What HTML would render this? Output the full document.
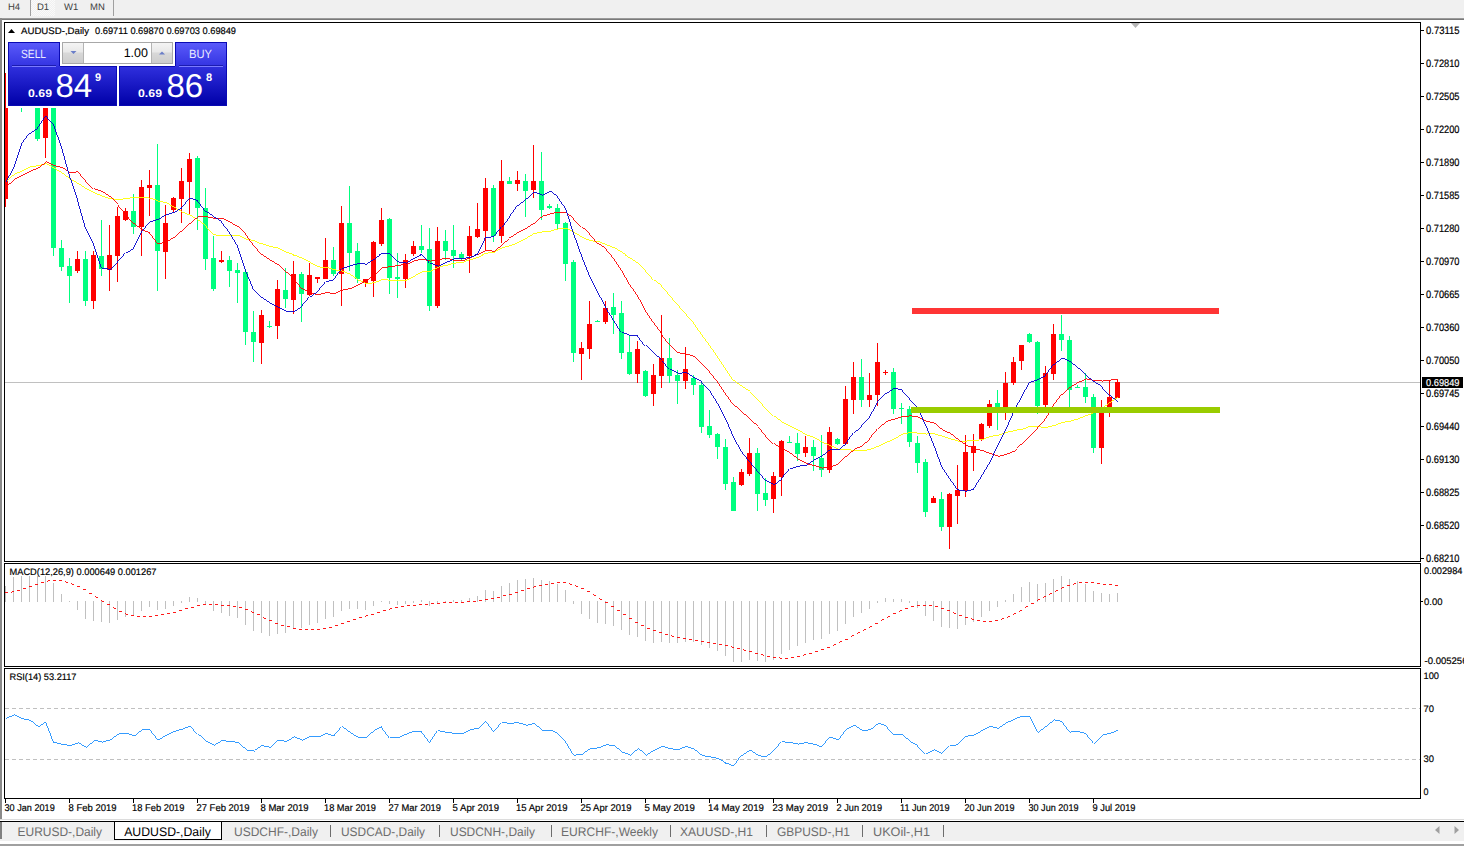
<!DOCTYPE html>
<html><head><meta charset="utf-8"><style>
html,body{margin:0;padding:0;background:#fff;width:1464px;height:846px;overflow:hidden}
svg{display:block;font-family:"Liberation Sans", sans-serif;text-rendering:geometricPrecision}
</style></head><body>
<svg width="1464" height="846" viewBox="0 0 1464 846">
<rect x="0" y="0" width="1464" height="18" fill="#f0f0f0"/>
<defs><pattern id="hatch" width="2" height="2" patternUnits="userSpaceOnUse"><rect width="2" height="2" fill="#f0f0f0"/><rect width="1" height="1" fill="#fafafa"/><rect x="1" y="1" width="1" height="1" fill="#fafafa"/></pattern></defs>
<rect x="31" y="0" width="24" height="16" fill="url(#hatch)"/>
<rect x="30" y="0" width="1" height="16" fill="#a0a0a0"/>
<rect x="113" y="0" width="1" height="16" fill="#a0a0a0"/>
<rect x="0" y="18" width="1464" height="1" fill="#9a9a9a"/>
<rect x="0" y="19" width="1464" height="1" fill="#7a7a7a"/>
<rect x="0" y="18" width="2" height="802" fill="#8a8a8a"/>
<text x="8" y="10" font-size="9.5" fill="#404040" stroke="none">H4</text>
<text x="37" y="10" font-size="9.5" fill="#404040" stroke="none">D1</text>
<text x="64" y="10" font-size="9.5" fill="#404040" stroke="none">W1</text>
<text x="90" y="10" font-size="9.5" fill="#404040" stroke="none">MN</text>
<defs><clipPath id="cmain"><rect x="5" y="23" width="1415" height="538"/></clipPath></defs>
<rect x="5" y="382" width="1415" height="1" fill="#c0c0c0"/>
<g clip-path="url(#cmain)">
<rect x="5" y="73" width="1" height="134" fill="#ff0000"/>
<rect x="3" y="107" width="5" height="92" fill="#ff0000"/>
<rect x="13" y="70" width="1" height="28" fill="#ff0000"/>
<rect x="11" y="75" width="5" height="18" fill="#ff0000"/>
<rect x="21" y="72" width="1" height="40" fill="#00ff7f"/>
<rect x="19" y="75" width="5" height="20" fill="#00ff7f"/>
<rect x="29" y="92" width="1" height="12" fill="#00ff7f"/>
<rect x="27" y="95" width="5" height="9" fill="#00ff7f"/>
<rect x="37" y="100" width="1" height="41" fill="#00ff7f"/>
<rect x="35" y="105" width="5" height="34" fill="#00ff7f"/>
<rect x="45" y="95" width="1" height="63" fill="#ff0000"/>
<rect x="43" y="100" width="5" height="38" fill="#ff0000"/>
<rect x="53" y="97" width="1" height="159" fill="#00ff7f"/>
<rect x="51" y="100" width="5" height="148" fill="#00ff7f"/>
<rect x="61" y="240" width="1" height="31" fill="#00ff7f"/>
<rect x="59" y="248" width="5" height="19" fill="#00ff7f"/>
<rect x="69" y="258" width="1" height="45" fill="#00ff7f"/>
<rect x="67" y="266" width="5" height="10" fill="#00ff7f"/>
<rect x="77" y="251" width="1" height="22" fill="#ff0000"/>
<rect x="75" y="259" width="5" height="12" fill="#ff0000"/>
<rect x="85" y="251" width="1" height="55" fill="#00ff7f"/>
<rect x="83" y="259" width="5" height="42" fill="#00ff7f"/>
<rect x="93" y="251" width="1" height="58" fill="#ff0000"/>
<rect x="91" y="255" width="5" height="46" fill="#ff0000"/>
<rect x="101" y="220" width="1" height="56" fill="#00ff7f"/>
<rect x="99" y="256" width="5" height="13" fill="#00ff7f"/>
<rect x="109" y="225" width="1" height="66" fill="#ff0000"/>
<rect x="107" y="255" width="5" height="15" fill="#ff0000"/>
<rect x="117" y="207" width="1" height="75" fill="#ff0000"/>
<rect x="115" y="216" width="5" height="40" fill="#ff0000"/>
<rect x="125" y="208" width="1" height="13" fill="#ff0000"/>
<rect x="123" y="211" width="5" height="9" fill="#ff0000"/>
<rect x="133" y="194" width="1" height="40" fill="#00ff7f"/>
<rect x="131" y="211" width="5" height="16" fill="#00ff7f"/>
<rect x="141" y="180" width="1" height="76" fill="#ff0000"/>
<rect x="139" y="187" width="5" height="40" fill="#ff0000"/>
<rect x="149" y="170" width="1" height="46" fill="#ff0000"/>
<rect x="147" y="185" width="5" height="3" fill="#ff0000"/>
<rect x="157" y="144" width="1" height="147" fill="#00ff7f"/>
<rect x="155" y="185" width="5" height="66" fill="#00ff7f"/>
<rect x="165" y="205" width="1" height="74" fill="#ff0000"/>
<rect x="163" y="223" width="5" height="29" fill="#ff0000"/>
<rect x="173" y="197" width="1" height="15" fill="#ff0000"/>
<rect x="171" y="198" width="5" height="12" fill="#ff0000"/>
<rect x="181" y="168" width="1" height="55" fill="#ff0000"/>
<rect x="179" y="181" width="5" height="18" fill="#ff0000"/>
<rect x="189" y="153" width="1" height="61" fill="#ff0000"/>
<rect x="187" y="159" width="5" height="23" fill="#ff0000"/>
<rect x="197" y="156" width="1" height="74" fill="#00ff7f"/>
<rect x="195" y="158" width="5" height="50" fill="#00ff7f"/>
<rect x="205" y="188" width="1" height="82" fill="#00ff7f"/>
<rect x="203" y="208" width="5" height="51" fill="#00ff7f"/>
<rect x="213" y="236" width="1" height="55" fill="#00ff7f"/>
<rect x="211" y="258" width="5" height="31" fill="#00ff7f"/>
<rect x="221" y="251" width="1" height="12" fill="#ff0000"/>
<rect x="219" y="260" width="5" height="2" fill="#ff0000"/>
<rect x="229" y="256" width="1" height="31" fill="#00ff7f"/>
<rect x="227" y="260" width="5" height="11" fill="#00ff7f"/>
<rect x="237" y="263" width="1" height="40" fill="#00ff7f"/>
<rect x="235" y="270" width="5" height="3" fill="#00ff7f"/>
<rect x="245" y="269" width="1" height="76" fill="#00ff7f"/>
<rect x="243" y="272" width="5" height="60" fill="#00ff7f"/>
<rect x="253" y="311" width="1" height="51" fill="#00ff7f"/>
<rect x="251" y="332" width="5" height="10" fill="#00ff7f"/>
<rect x="261" y="310" width="1" height="54" fill="#ff0000"/>
<rect x="259" y="315" width="5" height="28" fill="#ff0000"/>
<rect x="269" y="321" width="1" height="7" fill="#00ff7f"/>
<rect x="267" y="326" width="5" height="1" fill="#00ff7f"/>
<rect x="277" y="280" width="1" height="59" fill="#ff0000"/>
<rect x="275" y="289" width="5" height="37" fill="#ff0000"/>
<rect x="285" y="268" width="1" height="40" fill="#00ff7f"/>
<rect x="283" y="290" width="5" height="9" fill="#00ff7f"/>
<rect x="293" y="261" width="1" height="53" fill="#ff0000"/>
<rect x="291" y="274" width="5" height="26" fill="#ff0000"/>
<rect x="301" y="272" width="1" height="50" fill="#00ff7f"/>
<rect x="299" y="274" width="5" height="20" fill="#00ff7f"/>
<rect x="309" y="263" width="1" height="33" fill="#ff0000"/>
<rect x="307" y="275" width="5" height="20" fill="#ff0000"/>
<rect x="317" y="277" width="1" height="6" fill="#ff0000"/>
<rect x="315" y="277" width="5" height="2" fill="#ff0000"/>
<rect x="325" y="238" width="1" height="41" fill="#ff0000"/>
<rect x="323" y="260" width="5" height="19" fill="#ff0000"/>
<rect x="333" y="247" width="1" height="29" fill="#00ff7f"/>
<rect x="331" y="260" width="5" height="14" fill="#00ff7f"/>
<rect x="341" y="206" width="1" height="100" fill="#ff0000"/>
<rect x="339" y="223" width="5" height="51" fill="#ff0000"/>
<rect x="349" y="186" width="1" height="85" fill="#00ff7f"/>
<rect x="347" y="223" width="5" height="30" fill="#00ff7f"/>
<rect x="357" y="243" width="1" height="40" fill="#00ff7f"/>
<rect x="355" y="251" width="5" height="28" fill="#00ff7f"/>
<rect x="365" y="279" width="1" height="8" fill="#ff0000"/>
<rect x="363" y="279" width="5" height="4" fill="#ff0000"/>
<rect x="373" y="241" width="1" height="56" fill="#ff0000"/>
<rect x="371" y="242" width="5" height="39" fill="#ff0000"/>
<rect x="381" y="208" width="1" height="38" fill="#ff0000"/>
<rect x="379" y="220" width="5" height="24" fill="#ff0000"/>
<rect x="389" y="218" width="1" height="76" fill="#00ff7f"/>
<rect x="387" y="219" width="5" height="59" fill="#00ff7f"/>
<rect x="397" y="253" width="1" height="45" fill="#00ff7f"/>
<rect x="395" y="277" width="5" height="2" fill="#00ff7f"/>
<rect x="405" y="254" width="1" height="34" fill="#ff0000"/>
<rect x="403" y="260" width="5" height="19" fill="#ff0000"/>
<rect x="413" y="241" width="1" height="15" fill="#ff0000"/>
<rect x="411" y="246" width="5" height="8" fill="#ff0000"/>
<rect x="421" y="225" width="1" height="28" fill="#00ff7f"/>
<rect x="419" y="246" width="5" height="4" fill="#00ff7f"/>
<rect x="429" y="228" width="1" height="83" fill="#00ff7f"/>
<rect x="427" y="249" width="5" height="57" fill="#00ff7f"/>
<rect x="437" y="227" width="1" height="81" fill="#ff0000"/>
<rect x="435" y="241" width="5" height="65" fill="#ff0000"/>
<rect x="445" y="230" width="1" height="30" fill="#00ff7f"/>
<rect x="443" y="241" width="5" height="10" fill="#00ff7f"/>
<rect x="453" y="225" width="1" height="43" fill="#00ff7f"/>
<rect x="451" y="250" width="5" height="6" fill="#00ff7f"/>
<rect x="461" y="252" width="1" height="9" fill="#00ff7f"/>
<rect x="459" y="254" width="5" height="4" fill="#00ff7f"/>
<rect x="469" y="226" width="1" height="47" fill="#ff0000"/>
<rect x="467" y="236" width="5" height="20" fill="#ff0000"/>
<rect x="477" y="203" width="1" height="35" fill="#ff0000"/>
<rect x="475" y="229" width="5" height="8" fill="#ff0000"/>
<rect x="485" y="178" width="1" height="72" fill="#ff0000"/>
<rect x="483" y="188" width="5" height="43" fill="#ff0000"/>
<rect x="493" y="185" width="1" height="57" fill="#00ff7f"/>
<rect x="491" y="188" width="5" height="48" fill="#00ff7f"/>
<rect x="501" y="160" width="1" height="83" fill="#ff0000"/>
<rect x="499" y="181" width="5" height="55" fill="#ff0000"/>
<rect x="509" y="177" width="1" height="7" fill="#00ff7f"/>
<rect x="507" y="181" width="5" height="3" fill="#00ff7f"/>
<rect x="517" y="171" width="1" height="20" fill="#ff0000"/>
<rect x="515" y="180" width="5" height="4" fill="#ff0000"/>
<rect x="525" y="174" width="1" height="43" fill="#00ff7f"/>
<rect x="523" y="181" width="5" height="10" fill="#00ff7f"/>
<rect x="533" y="145" width="1" height="53" fill="#ff0000"/>
<rect x="531" y="181" width="5" height="9" fill="#ff0000"/>
<rect x="541" y="152" width="1" height="68" fill="#00ff7f"/>
<rect x="539" y="181" width="5" height="29" fill="#00ff7f"/>
<rect x="549" y="204" width="1" height="5" fill="#00ff7f"/>
<rect x="547" y="206" width="5" height="2" fill="#00ff7f"/>
<rect x="557" y="204" width="1" height="25" fill="#00ff7f"/>
<rect x="555" y="208" width="5" height="16" fill="#00ff7f"/>
<rect x="565" y="222" width="1" height="59" fill="#00ff7f"/>
<rect x="563" y="223" width="5" height="41" fill="#00ff7f"/>
<rect x="573" y="260" width="1" height="102" fill="#00ff7f"/>
<rect x="571" y="262" width="5" height="91" fill="#00ff7f"/>
<rect x="581" y="342" width="1" height="38" fill="#ff0000"/>
<rect x="579" y="348" width="5" height="6" fill="#ff0000"/>
<rect x="589" y="301" width="1" height="58" fill="#ff0000"/>
<rect x="587" y="324" width="5" height="25" fill="#ff0000"/>
<rect x="597" y="320" width="1" height="2" fill="#00ff7f"/>
<rect x="595" y="321" width="5" height="1" fill="#00ff7f"/>
<rect x="605" y="301" width="1" height="23" fill="#ff0000"/>
<rect x="603" y="308" width="5" height="14" fill="#ff0000"/>
<rect x="613" y="293" width="1" height="41" fill="#00ff7f"/>
<rect x="611" y="307" width="5" height="8" fill="#00ff7f"/>
<rect x="621" y="301" width="1" height="58" fill="#00ff7f"/>
<rect x="619" y="313" width="5" height="40" fill="#00ff7f"/>
<rect x="629" y="335" width="1" height="40" fill="#00ff7f"/>
<rect x="627" y="352" width="5" height="22" fill="#00ff7f"/>
<rect x="637" y="341" width="1" height="42" fill="#ff0000"/>
<rect x="635" y="349" width="5" height="25" fill="#ff0000"/>
<rect x="645" y="370" width="1" height="27" fill="#00ff7f"/>
<rect x="643" y="371" width="5" height="25" fill="#00ff7f"/>
<rect x="653" y="364" width="1" height="42" fill="#ff0000"/>
<rect x="651" y="375" width="5" height="19" fill="#ff0000"/>
<rect x="661" y="315" width="1" height="73" fill="#ff0000"/>
<rect x="659" y="358" width="5" height="18" fill="#ff0000"/>
<rect x="669" y="338" width="1" height="45" fill="#00ff7f"/>
<rect x="667" y="358" width="5" height="18" fill="#00ff7f"/>
<rect x="677" y="370" width="1" height="34" fill="#00ff7f"/>
<rect x="675" y="375" width="5" height="6" fill="#00ff7f"/>
<rect x="685" y="347" width="1" height="42" fill="#ff0000"/>
<rect x="683" y="369" width="5" height="12" fill="#ff0000"/>
<rect x="693" y="375" width="1" height="20" fill="#00ff7f"/>
<rect x="691" y="378" width="5" height="7" fill="#00ff7f"/>
<rect x="701" y="383" width="1" height="50" fill="#00ff7f"/>
<rect x="699" y="385" width="5" height="42" fill="#00ff7f"/>
<rect x="709" y="410" width="1" height="28" fill="#00ff7f"/>
<rect x="707" y="426" width="5" height="9" fill="#00ff7f"/>
<rect x="717" y="433" width="1" height="26" fill="#00ff7f"/>
<rect x="715" y="434" width="5" height="13" fill="#00ff7f"/>
<rect x="725" y="439" width="1" height="51" fill="#00ff7f"/>
<rect x="723" y="447" width="5" height="37" fill="#00ff7f"/>
<rect x="733" y="477" width="1" height="34" fill="#00ff7f"/>
<rect x="731" y="482" width="5" height="29" fill="#00ff7f"/>
<rect x="741" y="469" width="1" height="17" fill="#ff0000"/>
<rect x="739" y="472" width="5" height="13" fill="#ff0000"/>
<rect x="749" y="438" width="1" height="38" fill="#ff0000"/>
<rect x="747" y="453" width="5" height="21" fill="#ff0000"/>
<rect x="757" y="448" width="1" height="63" fill="#00ff7f"/>
<rect x="755" y="453" width="5" height="41" fill="#00ff7f"/>
<rect x="765" y="478" width="1" height="28" fill="#00ff7f"/>
<rect x="763" y="493" width="5" height="7" fill="#00ff7f"/>
<rect x="773" y="472" width="1" height="41" fill="#ff0000"/>
<rect x="771" y="476" width="5" height="23" fill="#ff0000"/>
<rect x="781" y="440" width="1" height="56" fill="#ff0000"/>
<rect x="779" y="441" width="5" height="36" fill="#ff0000"/>
<rect x="789" y="436" width="1" height="7" fill="#00ff7f"/>
<rect x="787" y="442" width="5" height="1" fill="#00ff7f"/>
<rect x="797" y="433" width="1" height="28" fill="#00ff7f"/>
<rect x="795" y="443" width="5" height="11" fill="#00ff7f"/>
<rect x="805" y="436" width="1" height="21" fill="#ff0000"/>
<rect x="803" y="447" width="5" height="6" fill="#ff0000"/>
<rect x="813" y="440" width="1" height="31" fill="#00ff7f"/>
<rect x="811" y="447" width="5" height="9" fill="#00ff7f"/>
<rect x="821" y="435" width="1" height="42" fill="#00ff7f"/>
<rect x="819" y="458" width="5" height="12" fill="#00ff7f"/>
<rect x="829" y="427" width="1" height="46" fill="#ff0000"/>
<rect x="827" y="432" width="5" height="38" fill="#ff0000"/>
<rect x="837" y="438" width="1" height="7" fill="#00ff7f"/>
<rect x="835" y="439" width="5" height="5" fill="#00ff7f"/>
<rect x="845" y="386" width="1" height="59" fill="#ff0000"/>
<rect x="843" y="399" width="5" height="45" fill="#ff0000"/>
<rect x="853" y="362" width="1" height="52" fill="#ff0000"/>
<rect x="851" y="377" width="5" height="23" fill="#ff0000"/>
<rect x="861" y="359" width="1" height="48" fill="#00ff7f"/>
<rect x="859" y="377" width="5" height="23" fill="#00ff7f"/>
<rect x="869" y="373" width="1" height="34" fill="#ff0000"/>
<rect x="867" y="395" width="5" height="5" fill="#ff0000"/>
<rect x="877" y="343" width="1" height="63" fill="#ff0000"/>
<rect x="875" y="362" width="5" height="33" fill="#ff0000"/>
<rect x="885" y="370" width="1" height="5" fill="#ff0000"/>
<rect x="883" y="372" width="5" height="1" fill="#ff0000"/>
<rect x="893" y="368" width="1" height="46" fill="#00ff7f"/>
<rect x="891" y="372" width="5" height="37" fill="#00ff7f"/>
<rect x="901" y="403" width="1" height="21" fill="#00ff7f"/>
<rect x="899" y="408" width="5" height="1" fill="#00ff7f"/>
<rect x="909" y="406" width="1" height="41" fill="#00ff7f"/>
<rect x="907" y="409" width="5" height="33" fill="#00ff7f"/>
<rect x="917" y="436" width="1" height="37" fill="#00ff7f"/>
<rect x="915" y="443" width="5" height="20" fill="#00ff7f"/>
<rect x="925" y="459" width="1" height="58" fill="#00ff7f"/>
<rect x="923" y="462" width="5" height="50" fill="#00ff7f"/>
<rect x="933" y="496" width="1" height="7" fill="#ff0000"/>
<rect x="931" y="498" width="5" height="5" fill="#ff0000"/>
<rect x="941" y="492" width="1" height="39" fill="#00ff7f"/>
<rect x="939" y="499" width="5" height="28" fill="#00ff7f"/>
<rect x="949" y="493" width="1" height="56" fill="#ff0000"/>
<rect x="947" y="494" width="5" height="33" fill="#ff0000"/>
<rect x="957" y="465" width="1" height="59" fill="#ff0000"/>
<rect x="955" y="490" width="5" height="6" fill="#ff0000"/>
<rect x="965" y="435" width="1" height="62" fill="#ff0000"/>
<rect x="963" y="452" width="5" height="39" fill="#ff0000"/>
<rect x="973" y="434" width="1" height="37" fill="#ff0000"/>
<rect x="971" y="446" width="5" height="7" fill="#ff0000"/>
<rect x="981" y="423" width="1" height="18" fill="#ff0000"/>
<rect x="979" y="424" width="5" height="15" fill="#ff0000"/>
<rect x="989" y="400" width="1" height="28" fill="#ff0000"/>
<rect x="987" y="404" width="5" height="22" fill="#ff0000"/>
<rect x="997" y="390" width="1" height="40" fill="#00ff7f"/>
<rect x="995" y="403" width="5" height="8" fill="#00ff7f"/>
<rect x="1005" y="372" width="1" height="48" fill="#ff0000"/>
<rect x="1003" y="383" width="5" height="29" fill="#ff0000"/>
<rect x="1013" y="357" width="1" height="28" fill="#ff0000"/>
<rect x="1011" y="362" width="5" height="21" fill="#ff0000"/>
<rect x="1021" y="345" width="1" height="25" fill="#ff0000"/>
<rect x="1019" y="345" width="5" height="16" fill="#ff0000"/>
<rect x="1029" y="333" width="1" height="10" fill="#00ff7f"/>
<rect x="1027" y="334" width="5" height="8" fill="#00ff7f"/>
<rect x="1037" y="341" width="1" height="73" fill="#00ff7f"/>
<rect x="1035" y="342" width="5" height="64" fill="#00ff7f"/>
<rect x="1045" y="366" width="1" height="47" fill="#ff0000"/>
<rect x="1043" y="373" width="5" height="32" fill="#ff0000"/>
<rect x="1053" y="324" width="1" height="56" fill="#ff0000"/>
<rect x="1051" y="334" width="5" height="40" fill="#ff0000"/>
<rect x="1061" y="315" width="1" height="36" fill="#00ff7f"/>
<rect x="1059" y="334" width="5" height="6" fill="#00ff7f"/>
<rect x="1069" y="336" width="1" height="71" fill="#00ff7f"/>
<rect x="1067" y="340" width="5" height="50" fill="#00ff7f"/>
<rect x="1077" y="385" width="1" height="3" fill="#00ff7f"/>
<rect x="1075" y="387" width="5" height="1" fill="#00ff7f"/>
<rect x="1085" y="373" width="1" height="30" fill="#00ff7f"/>
<rect x="1083" y="387" width="5" height="10" fill="#00ff7f"/>
<rect x="1093" y="394" width="1" height="59" fill="#00ff7f"/>
<rect x="1091" y="397" width="5" height="51" fill="#00ff7f"/>
<rect x="1101" y="400" width="1" height="64" fill="#ff0000"/>
<rect x="1099" y="408" width="5" height="40" fill="#ff0000"/>
<rect x="1109" y="380" width="1" height="37" fill="#ff0000"/>
<rect x="1107" y="397" width="5" height="10" fill="#ff0000"/>
<rect x="1117" y="380" width="1" height="18" fill="#ff0000"/>
<rect x="1115" y="382" width="5" height="16" fill="#ff0000"/>
<g shape-rendering="crispEdges">
<polyline points="5.5,181.5 13.5,174.1 21.5,170.8 29.5,166.9 37.5,165.5 45.5,163.5 53.5,168.4 61.5,173.2 69.5,178.9 77.5,183.7 85.5,188.9 93.5,192.8 101.5,196.2 109.5,198.8 117.5,199.3 125.5,198.8 133.5,197.2 141.5,197.2 149.5,198.2 157.5,201.0 165.5,202.9 173.5,207.2 181.5,212.2 189.5,215.2 197.5,220.2 205.5,225.9 213.5,234.9 221.5,235.4 229.5,235.6 237.5,235.5 245.5,239.0 253.5,240.9 261.5,243.8 269.5,246.5 277.5,248.2 285.5,252.1 293.5,255.1 301.5,258.3 309.5,262.5 317.5,266.9 325.5,267.4 333.5,269.8 341.5,271.0 349.5,274.4 357.5,280.1 365.5,283.6 373.5,282.7 381.5,279.5 389.5,280.3 397.5,280.7 405.5,280.1 413.5,276.0 421.5,271.6 429.5,271.2 437.5,267.1 445.5,265.3 453.5,263.2 461.5,262.4 469.5,259.6 477.5,257.4 485.5,253.2 493.5,252.0 501.5,247.6 509.5,245.8 517.5,242.3 525.5,238.1 533.5,233.4 541.5,231.9 549.5,231.3 557.5,228.7 565.5,228.0 573.5,232.4 581.5,237.3 589.5,240.8 597.5,241.6 605.5,244.8 613.5,247.8 621.5,252.5 629.5,258.0 637.5,263.4 645.5,271.3 653.5,280.2 661.5,286.1 669.5,295.4 677.5,304.8 685.5,313.8 693.5,323.0 701.5,334.7 709.5,345.4 717.5,356.8 725.5,369.2 733.5,380.9 741.5,386.6 749.5,391.6 757.5,399.7 765.5,408.2 773.5,416.2 781.5,422.2 789.5,426.4 797.5,430.2 805.5,434.9 813.5,437.7 821.5,442.2 829.5,445.7 837.5,449.0 845.5,449.8 853.5,450.2 861.5,450.9 869.5,449.4 877.5,446.0 885.5,442.4 893.5,438.9 901.5,434.1 909.5,432.6 917.5,433.1 925.5,434.0 933.5,433.9 941.5,436.3 949.5,438.9 957.5,441.1 965.5,441.0 973.5,440.9 981.5,439.4 989.5,436.3 997.5,435.3 1005.5,432.4 1013.5,430.6 1021.5,429.1 1029.5,426.3 1037.5,426.8 1045.5,427.4 1053.5,425.5 1061.5,422.3 1069.5,421.3 1077.5,418.7 1085.5,415.6 1093.5,412.5 1101.5,408.2 1109.5,402.1 1117.5,396.7" fill="none" stroke="#ffff00" stroke-width="0.9" />
<polyline points="5.5,186.5 13.5,179.5 21.5,175.1 29.5,171.2 37.5,167.9 45.5,161.7 53.5,165.5 61.5,167.5 69.5,172.7 77.5,171.7 85.5,180.5 93.5,188.9 101.5,191.5 109.5,196.9 117.5,204.7 125.5,214.4 133.5,223.8 141.5,229.8 149.5,233.1 157.5,243.8 165.5,242.0 173.5,237.0 181.5,230.2 189.5,223.1 197.5,216.4 205.5,216.7 213.5,218.2 221.5,218.5 229.5,222.4 237.5,226.9 245.5,234.4 253.5,245.4 261.5,254.7 269.5,260.1 277.5,264.9 285.5,272.1 293.5,278.8 301.5,288.5 309.5,293.3 317.5,294.6 325.5,292.6 333.5,293.5 341.5,290.1 349.5,288.6 357.5,284.8 365.5,280.4 373.5,275.1 381.5,267.6 389.5,266.8 397.5,265.3 405.5,264.3 413.5,260.9 421.5,259.1 429.5,261.1 437.5,259.7 445.5,258.1 453.5,260.4 461.5,260.8 469.5,257.7 477.5,254.1 485.5,250.3 493.5,251.4 501.5,244.5 509.5,237.7 517.5,232.0 525.5,228.0 533.5,223.1 541.5,216.2 549.5,213.9 557.5,212.0 565.5,212.5 573.5,219.3 581.5,227.3 589.5,234.1 597.5,243.6 605.5,248.8 613.5,258.4 621.5,270.4 629.5,284.4 637.5,295.7 645.5,311.0 653.5,322.8 661.5,333.5 669.5,344.4 677.5,352.8 685.5,354.0 693.5,356.6 701.5,364.0 709.5,372.0 717.5,381.9 725.5,394.0 733.5,405.2 741.5,412.2 749.5,419.6 757.5,426.6 765.5,435.5 773.5,443.9 781.5,448.6 789.5,453.0 797.5,459.0 805.5,463.5 813.5,465.5 821.5,468.0 829.5,467.0 837.5,464.2 845.5,456.2 853.5,449.4 861.5,445.6 869.5,438.6 877.5,428.7 885.5,421.3 893.5,419.1 901.5,416.7 909.5,415.8 917.5,417.0 925.5,421.0 933.5,423.1 941.5,429.8 949.5,433.4 957.5,439.8 965.5,445.2 973.5,448.5 981.5,450.5 989.5,453.5 997.5,456.3 1005.5,454.4 1013.5,451.0 1021.5,444.1 1029.5,435.5 1037.5,427.9 1045.5,418.9 1053.5,405.1 1061.5,394.2 1069.5,387.0 1077.5,382.4 1085.5,378.9 1093.5,380.6 1101.5,381.0 1109.5,380.0 1117.5,379.9" fill="none" stroke="#ff0000" stroke-width="0.9" />
<polyline points="5.5,181.5 13.5,167.5 21.5,143.5 29.5,133.0 37.5,128.2 45.5,115.8 53.5,124.6 61.5,147.4 69.5,176.1 77.5,199.5 85.5,227.7 93.5,244.2 101.5,268.3 109.5,269.3 117.5,262.0 125.5,252.7 133.5,248.2 141.5,231.9 149.5,221.9 157.5,219.3 165.5,214.7 173.5,212.1 181.5,207.8 189.5,198.1 197.5,201.0 205.5,211.5 213.5,217.0 221.5,222.3 229.5,232.7 237.5,246.0 245.5,270.7 253.5,289.9 261.5,297.9 269.5,303.3 277.5,307.4 285.5,311.5 293.5,311.6 301.5,306.2 309.5,296.7 317.5,291.3 325.5,281.8 333.5,279.6 341.5,268.7 349.5,265.7 357.5,263.5 365.5,264.1 373.5,259.0 381.5,253.3 389.5,253.9 397.5,261.9 405.5,263.0 413.5,258.2 421.5,254.0 429.5,263.2 437.5,266.2 445.5,262.3 453.5,258.9 461.5,258.6 469.5,257.2 477.5,254.2 485.5,237.4 493.5,236.7 501.5,226.7 509.5,216.5 517.5,205.3 525.5,198.9 533.5,192.0 541.5,195.1 549.5,191.1 557.5,197.2 565.5,208.6 573.5,233.3 581.5,255.8 589.5,276.2 597.5,292.2 605.5,306.5 613.5,319.5 621.5,332.3 629.5,335.4 637.5,335.5 645.5,345.8 653.5,353.4 661.5,360.6 669.5,369.4 677.5,373.4 685.5,372.6 693.5,377.7 701.5,382.1 709.5,390.6 717.5,403.3 725.5,418.6 733.5,437.1 741.5,451.8 749.5,461.6 757.5,471.1 765.5,480.5 773.5,484.6 781.5,478.5 789.5,468.8 797.5,466.2 805.5,465.3 813.5,459.9 821.5,455.6 829.5,449.3 837.5,449.8 845.5,443.6 853.5,432.6 861.5,425.9 869.5,417.3 877.5,401.9 885.5,393.3 893.5,388.3 901.5,389.8 909.5,399.0 917.5,408.1 925.5,424.8 933.5,444.2 941.5,466.3 949.5,478.4 957.5,489.9 965.5,491.3 973.5,488.9 981.5,476.3 989.5,462.8 997.5,446.2 1005.5,430.3 1013.5,412.1 1021.5,396.8 1029.5,382.1 1037.5,379.5 1045.5,375.1 1053.5,364.1 1061.5,358.0 1069.5,361.9 1077.5,368.0 1085.5,375.8 1093.5,381.8 1101.5,386.9 1109.5,395.9 1117.5,401.8" fill="none" stroke="#0000cd" stroke-width="0.9" />
</g>
<rect x="912" y="308" width="307" height="6" fill="#ff3535"/>
<rect x="911" y="407" width="309" height="6" fill="#99cc00"/>
</g>
<path d="M1131 23 L1140 23 L1135.5 28 Z" fill="#b4b4b4"/>
<rect x="5" y="586" width="1" height="16" fill="#c0c0c0"/>
<rect x="13" y="577" width="1" height="25" fill="#c0c0c0"/>
<rect x="21" y="576" width="1" height="26" fill="#c0c0c0"/>
<rect x="29" y="576" width="1" height="26" fill="#c0c0c0"/>
<rect x="37" y="576" width="1" height="26" fill="#c0c0c0"/>
<rect x="45" y="576" width="1" height="26" fill="#c0c0c0"/>
<rect x="53" y="583" width="1" height="19" fill="#c0c0c0"/>
<rect x="61" y="594" width="1" height="8" fill="#c0c0c0"/>
<rect x="69" y="601" width="1" height="1" fill="#c0c0c0"/>
<rect x="77" y="601" width="1" height="9" fill="#c0c0c0"/>
<rect x="85" y="601" width="1" height="18" fill="#c0c0c0"/>
<rect x="93" y="601" width="1" height="20" fill="#c0c0c0"/>
<rect x="101" y="601" width="1" height="21" fill="#c0c0c0"/>
<rect x="109" y="601" width="1" height="22" fill="#c0c0c0"/>
<rect x="117" y="601" width="1" height="19" fill="#c0c0c0"/>
<rect x="125" y="601" width="1" height="16" fill="#c0c0c0"/>
<rect x="133" y="601" width="1" height="14" fill="#c0c0c0"/>
<rect x="141" y="601" width="1" height="10" fill="#c0c0c0"/>
<rect x="149" y="601" width="1" height="6" fill="#c0c0c0"/>
<rect x="157" y="601" width="1" height="9" fill="#c0c0c0"/>
<rect x="165" y="601" width="1" height="8" fill="#c0c0c0"/>
<rect x="173" y="601" width="1" height="5" fill="#c0c0c0"/>
<rect x="181" y="601" width="1" height="2" fill="#c0c0c0"/>
<rect x="189" y="597" width="1" height="5" fill="#c0c0c0"/>
<rect x="197" y="598" width="1" height="4" fill="#c0c0c0"/>
<rect x="205" y="601" width="1" height="3" fill="#c0c0c0"/>
<rect x="213" y="601" width="1" height="10" fill="#c0c0c0"/>
<rect x="221" y="601" width="1" height="12" fill="#c0c0c0"/>
<rect x="229" y="601" width="1" height="15" fill="#c0c0c0"/>
<rect x="237" y="601" width="1" height="17" fill="#c0c0c0"/>
<rect x="245" y="601" width="1" height="24" fill="#c0c0c0"/>
<rect x="253" y="601" width="1" height="30" fill="#c0c0c0"/>
<rect x="261" y="601" width="1" height="32" fill="#c0c0c0"/>
<rect x="269" y="601" width="1" height="35" fill="#c0c0c0"/>
<rect x="277" y="601" width="1" height="33" fill="#c0c0c0"/>
<rect x="285" y="601" width="1" height="32" fill="#c0c0c0"/>
<rect x="293" y="601" width="1" height="28" fill="#c0c0c0"/>
<rect x="301" y="601" width="1" height="27" fill="#c0c0c0"/>
<rect x="309" y="601" width="1" height="24" fill="#c0c0c0"/>
<rect x="317" y="601" width="1" height="22" fill="#c0c0c0"/>
<rect x="325" y="601" width="1" height="18" fill="#c0c0c0"/>
<rect x="333" y="601" width="1" height="16" fill="#c0c0c0"/>
<rect x="341" y="601" width="1" height="10" fill="#c0c0c0"/>
<rect x="349" y="601" width="1" height="8" fill="#c0c0c0"/>
<rect x="357" y="601" width="1" height="8" fill="#c0c0c0"/>
<rect x="365" y="601" width="1" height="9" fill="#c0c0c0"/>
<rect x="373" y="601" width="1" height="5" fill="#c0c0c0"/>
<rect x="381" y="601" width="1" height="1" fill="#c0c0c0"/>
<rect x="389" y="601" width="1" height="3" fill="#c0c0c0"/>
<rect x="397" y="601" width="1" height="4" fill="#c0c0c0"/>
<rect x="405" y="601" width="1" height="3" fill="#c0c0c0"/>
<rect x="413" y="601" width="1" height="2" fill="#c0c0c0"/>
<rect x="421" y="600" width="1" height="2" fill="#c0c0c0"/>
<rect x="429" y="601" width="1" height="5" fill="#c0c0c0"/>
<rect x="437" y="601" width="1" height="2" fill="#c0c0c0"/>
<rect x="445" y="601" width="1" height="1" fill="#c0c0c0"/>
<rect x="453" y="600" width="1" height="2" fill="#c0c0c0"/>
<rect x="461" y="600" width="1" height="2" fill="#c0c0c0"/>
<rect x="469" y="598" width="1" height="4" fill="#c0c0c0"/>
<rect x="477" y="596" width="1" height="6" fill="#c0c0c0"/>
<rect x="485" y="590" width="1" height="12" fill="#c0c0c0"/>
<rect x="493" y="591" width="1" height="11" fill="#c0c0c0"/>
<rect x="501" y="586" width="1" height="16" fill="#c0c0c0"/>
<rect x="509" y="583" width="1" height="19" fill="#c0c0c0"/>
<rect x="517" y="580" width="1" height="22" fill="#c0c0c0"/>
<rect x="525" y="579" width="1" height="23" fill="#c0c0c0"/>
<rect x="533" y="578" width="1" height="24" fill="#c0c0c0"/>
<rect x="541" y="580" width="1" height="22" fill="#c0c0c0"/>
<rect x="549" y="581" width="1" height="21" fill="#c0c0c0"/>
<rect x="557" y="584" width="1" height="18" fill="#c0c0c0"/>
<rect x="565" y="590" width="1" height="12" fill="#c0c0c0"/>
<rect x="573" y="601" width="1" height="3" fill="#c0c0c0"/>
<rect x="581" y="601" width="1" height="13" fill="#c0c0c0"/>
<rect x="589" y="601" width="1" height="18" fill="#c0c0c0"/>
<rect x="597" y="601" width="1" height="22" fill="#c0c0c0"/>
<rect x="605" y="601" width="1" height="23" fill="#c0c0c0"/>
<rect x="613" y="601" width="1" height="25" fill="#c0c0c0"/>
<rect x="621" y="601" width="1" height="29" fill="#c0c0c0"/>
<rect x="629" y="601" width="1" height="34" fill="#c0c0c0"/>
<rect x="637" y="601" width="1" height="36" fill="#c0c0c0"/>
<rect x="645" y="601" width="1" height="40" fill="#c0c0c0"/>
<rect x="653" y="601" width="1" height="42" fill="#c0c0c0"/>
<rect x="661" y="601" width="1" height="41" fill="#c0c0c0"/>
<rect x="669" y="601" width="1" height="42" fill="#c0c0c0"/>
<rect x="677" y="601" width="1" height="42" fill="#c0c0c0"/>
<rect x="685" y="601" width="1" height="41" fill="#c0c0c0"/>
<rect x="693" y="601" width="1" height="41" fill="#c0c0c0"/>
<rect x="701" y="601" width="1" height="44" fill="#c0c0c0"/>
<rect x="709" y="601" width="1" height="47" fill="#c0c0c0"/>
<rect x="717" y="601" width="1" height="50" fill="#c0c0c0"/>
<rect x="725" y="601" width="1" height="55" fill="#c0c0c0"/>
<rect x="733" y="601" width="1" height="61" fill="#c0c0c0"/>
<rect x="741" y="601" width="1" height="61" fill="#c0c0c0"/>
<rect x="749" y="601" width="1" height="59" fill="#c0c0c0"/>
<rect x="757" y="601" width="1" height="60" fill="#c0c0c0"/>
<rect x="765" y="601" width="1" height="61" fill="#c0c0c0"/>
<rect x="773" y="601" width="1" height="59" fill="#c0c0c0"/>
<rect x="781" y="601" width="1" height="53" fill="#c0c0c0"/>
<rect x="789" y="601" width="1" height="49" fill="#c0c0c0"/>
<rect x="797" y="601" width="1" height="45" fill="#c0c0c0"/>
<rect x="805" y="601" width="1" height="42" fill="#c0c0c0"/>
<rect x="813" y="601" width="1" height="39" fill="#c0c0c0"/>
<rect x="821" y="601" width="1" height="38" fill="#c0c0c0"/>
<rect x="829" y="601" width="1" height="33" fill="#c0c0c0"/>
<rect x="837" y="601" width="1" height="30" fill="#c0c0c0"/>
<rect x="845" y="601" width="1" height="23" fill="#c0c0c0"/>
<rect x="853" y="601" width="1" height="16" fill="#c0c0c0"/>
<rect x="861" y="601" width="1" height="12" fill="#c0c0c0"/>
<rect x="869" y="601" width="1" height="8" fill="#c0c0c0"/>
<rect x="877" y="601" width="1" height="2" fill="#c0c0c0"/>
<rect x="885" y="598" width="1" height="4" fill="#c0c0c0"/>
<rect x="893" y="599" width="1" height="3" fill="#c0c0c0"/>
<rect x="901" y="599" width="1" height="3" fill="#c0c0c0"/>
<rect x="909" y="601" width="1" height="2" fill="#c0c0c0"/>
<rect x="917" y="601" width="1" height="7" fill="#c0c0c0"/>
<rect x="925" y="601" width="1" height="15" fill="#c0c0c0"/>
<rect x="933" y="601" width="1" height="20" fill="#c0c0c0"/>
<rect x="941" y="601" width="1" height="26" fill="#c0c0c0"/>
<rect x="949" y="601" width="1" height="27" fill="#c0c0c0"/>
<rect x="957" y="601" width="1" height="28" fill="#c0c0c0"/>
<rect x="965" y="601" width="1" height="24" fill="#c0c0c0"/>
<rect x="973" y="601" width="1" height="21" fill="#c0c0c0"/>
<rect x="981" y="601" width="1" height="16" fill="#c0c0c0"/>
<rect x="989" y="601" width="1" height="10" fill="#c0c0c0"/>
<rect x="997" y="601" width="1" height="6" fill="#c0c0c0"/>
<rect x="1005" y="600" width="1" height="2" fill="#c0c0c0"/>
<rect x="1013" y="594" width="1" height="8" fill="#c0c0c0"/>
<rect x="1021" y="587" width="1" height="15" fill="#c0c0c0"/>
<rect x="1029" y="582" width="1" height="20" fill="#c0c0c0"/>
<rect x="1037" y="584" width="1" height="18" fill="#c0c0c0"/>
<rect x="1045" y="583" width="1" height="19" fill="#c0c0c0"/>
<rect x="1053" y="579" width="1" height="23" fill="#c0c0c0"/>
<rect x="1061" y="576" width="1" height="26" fill="#c0c0c0"/>
<rect x="1069" y="579" width="1" height="23" fill="#c0c0c0"/>
<rect x="1077" y="581" width="1" height="21" fill="#c0c0c0"/>
<rect x="1085" y="584" width="1" height="18" fill="#c0c0c0"/>
<rect x="1093" y="591" width="1" height="11" fill="#c0c0c0"/>
<rect x="1101" y="593" width="1" height="9" fill="#c0c0c0"/>
<rect x="1109" y="594" width="1" height="8" fill="#c0c0c0"/>
<rect x="1117" y="593" width="1" height="9" fill="#c0c0c0"/>
<path d="M5,592.80L6.5,592.63L8,592.46M11,592.12L12.5,591.96L14,591.61M17,590.75L18.5,590.32L20,589.89M23,588.90L24.5,588.38L26,587.85M29,586.80L30.5,586.26L32,585.71M35,584.62L36.5,584.08L38,583.60M41,582.70L42.5,582.25L44,581.80M47,581.12L48.5,580.84L50,580.56M53,580.00L54.5,580.00L56,580.00M59,580.00L60.5,580.00L62,580.40M65,581.59L66.5,582.18L68,582.78M71,583.82L72.5,584.30L74,584.78M77,585.73L78.5,586.58L80,587.43M83,589.13L84.5,589.98L86,590.88M89,592.73L90.5,593.66L92,594.58M95,596.44L96.5,597.37L98,598.31M101,600.17L102.5,601.13L104,602.10M107,604.02L108.5,604.99L110,605.91M113,607.70L114.5,608.60L116,609.50M119,611.00L120.5,611.68L122,612.36M125,613.72L126.5,614.14L128,614.57M131,615.42L132.5,615.85L134,616.11M137,616.47L138.5,616.65L140,616.84M143,616.87L144.5,616.80L146,616.73M149,616.60L150.5,616.40L152,616.21M155,615.83L156.5,615.64L158,615.41M161,614.92L162.5,614.67L164,614.42M167,613.83L168.5,613.50L170,613.18M173,612.53L174.5,612.11L176,611.69M179,610.86L180.5,610.44L182,610.00M185,609.09L186.5,608.63L188,608.18M191,607.37L192.5,607.00L194,606.62M197,605.87L198.5,605.62L200,605.38M203,604.89L204.5,604.65L206,604.56M209,604.55L210.5,604.55L212,604.55M215,604.72L216.5,604.85L218,604.99M221,605.25L222.5,605.38L224,605.52M227,605.79L228.5,605.92L230,606.09M233,606.47L234.5,606.66L236,606.86M239,607.51L240.5,607.90L242,608.30M245,609.08L246.5,609.68L248,610.28M251,611.48L252.5,612.07L254,612.77M257,614.25L258.5,614.99L260,615.73M263,617.26L264.5,618.04L266,618.81M269,620.36L270.5,620.99L272,621.61M275,622.86L276.5,623.49L278,624.00M281,624.93L282.5,625.39L284,625.85M287,626.61L288.5,626.94L290,627.28M293,627.95L294.5,628.20L296,628.45M299,628.96L300.5,629.21L302,629.39M305,629.67L306.5,629.81L308,629.95M311,629.97L312.5,629.92L314,629.86M317,629.75L318.5,629.49L320,629.23M323,628.72L324.5,628.46L326,628.15M329,627.47L330.5,627.13L332,626.79M335,625.88L336.5,625.37L338,624.85M341,623.82L342.5,623.30L344,622.78M347,621.74L348.5,621.22L350,620.72M353,619.74L354.5,619.26L356,618.77M359,617.90L360.5,617.49L362,617.08M365,616.27L366.5,615.81L368,615.36M371,614.46L372.5,614.01L374,613.53M377,612.56L378.5,612.08L380,611.60M383,610.74L384.5,610.34L386,609.94M389,609.14L390.5,608.85L392,608.56M395,607.97L396.5,607.68L398,607.40M401,606.86L402.5,606.60L404,606.33M407,605.91L408.5,605.74L410,605.56M413,605.21L414.5,605.06L416,604.90M419,604.60L420.5,604.45L422,604.35M425,604.20L426.5,604.13L428,604.05M431,603.82L432.5,603.68L434,603.54M437,603.27L438.5,603.18L440,603.08M443,602.90L444.5,602.80L446,602.77M449,602.75L450.5,602.74L452,602.73M455,602.66L456.5,602.61L458,602.57M461,602.47L462.5,602.35L464,602.23M467,601.99L468.5,601.87L470,601.72M473,601.41L474.5,601.26L476,601.10M479,600.69L480.5,600.46L482,600.23M485,599.77L486.5,599.57L488,599.37M491,598.96L492.5,598.76L494,598.43M497,597.65L498.5,597.26L500,596.87M503,596.08L504.5,595.67L506,595.27M509,594.46L510.5,594.03L512,593.59M515,592.72L516.5,592.28L518,591.84M521,590.95L522.5,590.51L524,590.07M527,589.14L528.5,588.68L530,588.21M533,587.27L534.5,586.88L536,586.49M539,585.72L540.5,585.33L542,585.00M545,584.38L546.5,584.08L548,583.77M551,583.38L552.5,583.25L554,583.11M557,582.84L558.5,582.83L560,582.81M563,582.78L564.5,582.77L566,583.00M569,583.71L570.5,584.07L572,584.42M575,585.49L576.5,586.12L578,586.75M581,588.00L582.5,588.79L584,589.58M587,591.17L588.5,591.96L590,592.82M593,594.60L594.5,595.49L596,596.38M599,598.24L600.5,599.19L602,600.14M605,602.03L606.5,602.98L608,603.92M611,605.80L612.5,606.74L614,607.72M617,609.73L618.5,610.73L620,611.73M623,613.79L624.5,614.84L626,615.88M629,617.98L630.5,618.93L632,619.88M635,621.77L636.5,622.72L638,623.55M641,625.11L642.5,625.89L644,626.67M647,627.99L648.5,628.60L650,629.21M653,630.42L654.5,630.90L656,631.38M659,632.33L660.5,632.81L662,633.24M665,634.07L666.5,634.48L668,634.89M671,635.68L672.5,636.07L674,636.46M677,637.24L678.5,637.57L680,637.90M683,638.56L684.5,638.89L686,639.16M689,639.64L690.5,639.88L692,640.12M695,640.55L696.5,640.75L698,640.96M701,641.36L702.5,641.60L704,641.84M707,642.31L708.5,642.55L710,642.76M713,643.15L714.5,643.34L716,643.54M719,644.03L720.5,644.30L722,644.56M725,645.10L726.5,645.51L728,645.91M731,646.73L732.5,647.13L734,647.54M737,648.34L738.5,648.74L740,649.15M743,649.88L744.5,650.23L746,650.58M749,651.28L750.5,651.69L752,652.09M755,652.90L756.5,653.30L758,653.72M761,654.57L762.5,655.00L764,655.42M767,656.12L768.5,656.43L770,656.74M773,657.36L774.5,657.49L776,657.63M779,657.90L780.5,658.03L782,658.07M785,658.02L786.5,658.00L788,657.98M791,657.70L792.5,657.51L794,657.31M797,656.92L798.5,656.53L800,656.14M803,655.35L804.5,654.96L806,654.53M809,653.63L810.5,653.17L812,652.72M815,651.84L816.5,651.41L818,650.98M821,650.12L822.5,649.56L824,649.00M827,647.88L828.5,647.32L830,646.71M833,645.43L834.5,644.78L836,644.14M839,642.73L840.5,641.99L842,641.25M845,639.78L846.5,639.00L848,638.21M851,636.65L852.5,635.87L854,635.10M857,633.56L858.5,632.80L860,632.03M863,630.49L864.5,629.71L866,628.93M869,627.38L870.5,626.56L872,625.73M875,624.08L876.5,623.26L878,622.42M881,620.72L882.5,619.87L884,619.02M887,617.36L888.5,616.54L890,615.73M893,614.09L894.5,613.38L896,612.67M899,611.25L900.5,610.54L902,609.91M905,608.76L906.5,608.18L908,607.60M911,606.75L912.5,606.40L914,606.06M917,605.37L918.5,605.35L920,605.33M923,605.28L924.5,605.26L926,605.36M929,605.68L930.5,605.84L932,606.01M935,606.60L936.5,606.97L938,607.34M941,608.07L942.5,608.59L944,609.12M947,610.16L948.5,610.69L950,611.27M953,612.50L954.5,613.11L956,613.73M959,614.85L960.5,615.38L962,615.92M965,616.99L966.5,617.44L968,617.90M971,618.81L972.5,619.26L974,619.61M977,620.17L978.5,620.46L980,620.74M983,621.02L984.5,621.09L986,621.16M989,621.30L990.5,621.12L992,620.93M995,620.57L996.5,620.39L998,620.06M1001,619.26L1002.5,618.86L1004,618.46M1007,617.31L1008.5,616.64L1010,615.98M1013,614.65L1014.5,613.82L1016,612.99M1019,611.33L1020.5,610.50L1022,609.59M1025,607.70L1026.5,606.75L1028,605.80M1031,604.05L1032.5,603.21L1034,602.37M1037,600.69L1038.5,599.90L1040,599.10M1043,597.52L1044.5,596.72L1046,595.94M1049,594.37L1050.5,593.59L1052,592.81M1055,591.33L1056.5,590.62L1058,589.91M1061,588.48L1062.5,587.91L1064,587.34M1067,586.19L1068.5,585.62L1070,585.16M1073,584.35L1074.5,583.95L1076,583.54M1079,582.99L1080.5,582.78L1082,582.57M1085,582.15L1086.5,582.22L1088,582.29M1091,582.43L1092.5,582.50L1094,582.67M1097,583.11L1098.5,583.34L1100,583.56M1103,583.96L1104.5,584.16L1106,584.35M1109,584.74L1110.5,584.95L1112,585.15M1115,585.57L1116.5,585.77L1118,585.98" fill="none" stroke="#ff0000" stroke-width="0.9" shape-rendering="crispEdges"/>
<line x1="5" y1="708.5" x2="1420" y2="708.5" stroke="#c0c0c0" stroke-dasharray="4,3" shape-rendering="crispEdges"/>
<line x1="5" y1="759.5" x2="1420" y2="759.5" stroke="#c0c0c0" stroke-dasharray="4,3" shape-rendering="crispEdges"/>
<g shape-rendering="crispEdges"><polyline points="5.5,718.2 13.5,714.7 21.5,718.6 29.5,720.3 37.5,726.8 45.5,721.7 53.5,742.5 61.5,744.4 69.5,745.4 77.5,742.7 85.5,747.5 93.5,740.4 101.5,742.0 109.5,739.9 117.5,734.1 125.5,733.3 133.5,735.8 141.5,729.7 149.5,729.4 157.5,739.7 165.5,735.3 173.5,731.5 181.5,729.0 189.5,725.9 197.5,734.1 205.5,741.4 213.5,745.2 221.5,740.3 229.5,741.8 237.5,742.2 245.5,749.9 253.5,751.0 261.5,745.7 269.5,747.3 277.5,740.0 285.5,741.6 293.5,736.8 301.5,740.2 309.5,736.4 317.5,736.9 325.5,733.4 333.5,736.1 341.5,726.7 349.5,732.6 357.5,737.5 365.5,737.5 373.5,730.2 381.5,726.5 389.5,737.5 397.5,737.7 405.5,734.0 413.5,731.3 421.5,732.1 429.5,742.7 437.5,730.7 445.5,732.4 453.5,733.3 461.5,733.8 469.5,729.5 477.5,728.2 485.5,721.0 493.5,731.5 501.5,722.7 509.5,723.3 517.5,722.7 525.5,725.3 533.5,723.5 541.5,730.3 549.5,730.0 557.5,733.6 565.5,741.9 573.5,755.2 581.5,754.1 589.5,748.4 597.5,747.9 605.5,744.6 613.5,745.8 621.5,752.0 629.5,755.1 637.5,748.4 645.5,755.1 653.5,750.0 661.5,746.0 669.5,748.8 677.5,749.5 685.5,746.4 693.5,749.2 701.5,755.7 709.5,756.8 717.5,758.5 725.5,763.2 733.5,766.2 741.5,755.0 749.5,750.1 757.5,755.7 765.5,756.6 773.5,750.2 781.5,741.9 789.5,742.3 797.5,744.2 805.5,742.6 813.5,744.3 821.5,747.1 829.5,737.1 837.5,739.7 845.5,729.5 853.5,725.3 861.5,730.6 869.5,729.7 877.5,723.2 885.5,725.8 893.5,734.6 901.5,734.5 909.5,741.6 917.5,745.5 925.5,753.5 933.5,749.7 941.5,754.0 949.5,745.7 957.5,744.7 965.5,736.2 973.5,734.9 981.5,730.4 989.5,726.5 997.5,728.3 1005.5,722.9 1013.5,719.3 1021.5,716.5 1029.5,716.1 1037.5,732.2 1045.5,726.1 1053.5,719.9 1061.5,721.4 1069.5,732.0 1077.5,731.7 1085.5,733.7 1093.5,743.1 1101.5,735.2 1109.5,733.1 1117.5,730.2" fill="none" stroke="#1e90ff" stroke-width="0.9" /></g>
<rect x="4.5" y="22.5" width="1416" height="539" fill="none" stroke="#000" stroke-width="1"/>
<rect x="4.5" y="563.5" width="1416" height="103" fill="none" stroke="#000" stroke-width="1"/>
<rect x="4.5" y="668.5" width="1416" height="130" fill="none" stroke="#000" stroke-width="1"/>
<rect x="1421" y="30" width="3" height="1" fill="#000"/>
<g transform="translate(1426,34) scale(1,1.12)"><text x="0" y="0" font-size="9.5" fill="#000" textLength="33.5" lengthAdjust="spacingAndGlyphs"  stroke="#000" stroke-width="0.18">0.73115</text></g>
<rect x="1421" y="63" width="3" height="1" fill="#000"/>
<g transform="translate(1426,67) scale(1,1.12)"><text x="0" y="0" font-size="9.5" fill="#000" textLength="33.5" lengthAdjust="spacingAndGlyphs"  stroke="#000" stroke-width="0.18">0.72810</text></g>
<rect x="1421" y="96" width="3" height="1" fill="#000"/>
<g transform="translate(1426,100) scale(1,1.12)"><text x="0" y="0" font-size="9.5" fill="#000" textLength="33.5" lengthAdjust="spacingAndGlyphs"  stroke="#000" stroke-width="0.18">0.72505</text></g>
<rect x="1421" y="129" width="3" height="1" fill="#000"/>
<g transform="translate(1426,133) scale(1,1.12)"><text x="0" y="0" font-size="9.5" fill="#000" textLength="33.5" lengthAdjust="spacingAndGlyphs"  stroke="#000" stroke-width="0.18">0.72200</text></g>
<rect x="1421" y="162" width="3" height="1" fill="#000"/>
<g transform="translate(1426,166) scale(1,1.12)"><text x="0" y="0" font-size="9.5" fill="#000" textLength="33.5" lengthAdjust="spacingAndGlyphs"  stroke="#000" stroke-width="0.18">0.71890</text></g>
<rect x="1421" y="195" width="3" height="1" fill="#000"/>
<g transform="translate(1426,199) scale(1,1.12)"><text x="0" y="0" font-size="9.5" fill="#000" textLength="33.5" lengthAdjust="spacingAndGlyphs"  stroke="#000" stroke-width="0.18">0.71585</text></g>
<rect x="1421" y="228" width="3" height="1" fill="#000"/>
<g transform="translate(1426,232) scale(1,1.12)"><text x="0" y="0" font-size="9.5" fill="#000" textLength="33.5" lengthAdjust="spacingAndGlyphs"  stroke="#000" stroke-width="0.18">0.71280</text></g>
<rect x="1421" y="261" width="3" height="1" fill="#000"/>
<g transform="translate(1426,265) scale(1,1.12)"><text x="0" y="0" font-size="9.5" fill="#000" textLength="33.5" lengthAdjust="spacingAndGlyphs"  stroke="#000" stroke-width="0.18">0.70970</text></g>
<rect x="1421" y="294" width="3" height="1" fill="#000"/>
<g transform="translate(1426,298) scale(1,1.12)"><text x="0" y="0" font-size="9.5" fill="#000" textLength="33.5" lengthAdjust="spacingAndGlyphs"  stroke="#000" stroke-width="0.18">0.70665</text></g>
<rect x="1421" y="327" width="3" height="1" fill="#000"/>
<g transform="translate(1426,331) scale(1,1.12)"><text x="0" y="0" font-size="9.5" fill="#000" textLength="33.5" lengthAdjust="spacingAndGlyphs"  stroke="#000" stroke-width="0.18">0.70360</text></g>
<rect x="1421" y="360" width="3" height="1" fill="#000"/>
<g transform="translate(1426,364) scale(1,1.12)"><text x="0" y="0" font-size="9.5" fill="#000" textLength="33.5" lengthAdjust="spacingAndGlyphs"  stroke="#000" stroke-width="0.18">0.70050</text></g>
<rect x="1421" y="393" width="3" height="1" fill="#000"/>
<g transform="translate(1426,397) scale(1,1.12)"><text x="0" y="0" font-size="9.5" fill="#000" textLength="33.5" lengthAdjust="spacingAndGlyphs"  stroke="#000" stroke-width="0.18">0.69745</text></g>
<rect x="1421" y="426" width="3" height="1" fill="#000"/>
<g transform="translate(1426,430) scale(1,1.12)"><text x="0" y="0" font-size="9.5" fill="#000" textLength="33.5" lengthAdjust="spacingAndGlyphs"  stroke="#000" stroke-width="0.18">0.69440</text></g>
<rect x="1421" y="459" width="3" height="1" fill="#000"/>
<g transform="translate(1426,463) scale(1,1.12)"><text x="0" y="0" font-size="9.5" fill="#000" textLength="33.5" lengthAdjust="spacingAndGlyphs"  stroke="#000" stroke-width="0.18">0.69130</text></g>
<rect x="1421" y="492" width="3" height="1" fill="#000"/>
<g transform="translate(1426,496) scale(1,1.12)"><text x="0" y="0" font-size="9.5" fill="#000" textLength="33.5" lengthAdjust="spacingAndGlyphs"  stroke="#000" stroke-width="0.18">0.68825</text></g>
<rect x="1421" y="525" width="3" height="1" fill="#000"/>
<g transform="translate(1426,529) scale(1,1.12)"><text x="0" y="0" font-size="9.5" fill="#000" textLength="33.5" lengthAdjust="spacingAndGlyphs"  stroke="#000" stroke-width="0.18">0.68520</text></g>
<rect x="1421" y="558" width="3" height="1" fill="#000"/>
<g transform="translate(1426,562) scale(1,1.12)"><text x="0" y="0" font-size="9.5" fill="#000" textLength="33.5" lengthAdjust="spacingAndGlyphs"  stroke="#000" stroke-width="0.18">0.68210</text></g>
<rect x="1422" y="377" width="41" height="11" fill="#000"/>
<text x="1426" y="386" font-size="10" fill="#fff" textLength="33.5" lengthAdjust="spacingAndGlyphs"  stroke="#fff" stroke-width="0.18">0.69849</text>
<text x="1424" y="574" font-size="9.5" fill="#000" textLength="38.5" lengthAdjust="spacingAndGlyphs"  stroke="#000" stroke-width="0.18">0.002984</text>
<rect x="1421" y="601" width="2" height="1" fill="#000"/>
<text x="1424" y="605" font-size="9.5" fill="#000" textLength="18.5" lengthAdjust="spacingAndGlyphs"  stroke="#000" stroke-width="0.18">0.00</text>
<text x="1424.5" y="664" font-size="9.5" fill="#000" textLength="43" lengthAdjust="spacingAndGlyphs"  stroke="#000" stroke-width="0.18">-0.005256</text>
<text x="1423.5" y="678.7" font-size="9.5" fill="#000" textLength="15.5" lengthAdjust="spacingAndGlyphs"  stroke="#000" stroke-width="0.18">100</text>
<text x="1423.5" y="711.7" font-size="9.5" fill="#000" textLength="10.5" lengthAdjust="spacingAndGlyphs"  stroke="#000" stroke-width="0.18">70</text>
<text x="1423.5" y="762.3" font-size="9.5" fill="#000" textLength="10.5" lengthAdjust="spacingAndGlyphs"  stroke="#000" stroke-width="0.18">30</text>
<text x="1423.5" y="794.5" font-size="9.5" fill="#000" textLength="5" lengthAdjust="spacingAndGlyphs"  stroke="#000" stroke-width="0.18">0</text>
<rect x="5" y="799" width="1" height="4" fill="#000"/>
<text x="4.5" y="811" font-size="9.8" fill="#000" textLength="50.25" lengthAdjust="spacingAndGlyphs"  stroke="#000" stroke-width="0.18">30 Jan 2019</text>
<rect x="69" y="799" width="1" height="4" fill="#000"/>
<text x="68.5" y="811" font-size="9.8" fill="#000" textLength="48" lengthAdjust="spacingAndGlyphs"  stroke="#000" stroke-width="0.18">8 Feb 2019</text>
<rect x="133" y="799" width="1" height="4" fill="#000"/>
<text x="132" y="811" font-size="9.8" fill="#000" textLength="52.5" lengthAdjust="spacingAndGlyphs"  stroke="#000" stroke-width="0.18">18 Feb 2019</text>
<rect x="197" y="799" width="1" height="4" fill="#000"/>
<text x="196.5" y="811" font-size="9.8" fill="#000" textLength="53" lengthAdjust="spacingAndGlyphs"  stroke="#000" stroke-width="0.18">27 Feb 2019</text>
<rect x="261" y="799" width="1" height="4" fill="#000"/>
<text x="260.5" y="811" font-size="9.8" fill="#000" textLength="48" lengthAdjust="spacingAndGlyphs"  stroke="#000" stroke-width="0.18">8 Mar 2019</text>
<rect x="325" y="799" width="1" height="4" fill="#000"/>
<text x="324" y="811" font-size="9.8" fill="#000" textLength="52" lengthAdjust="spacingAndGlyphs"  stroke="#000" stroke-width="0.18">18 Mar 2019</text>
<rect x="389" y="799" width="1" height="4" fill="#000"/>
<text x="388.5" y="811" font-size="9.8" fill="#000" textLength="52.5" lengthAdjust="spacingAndGlyphs"  stroke="#000" stroke-width="0.18">27 Mar 2019</text>
<rect x="453" y="799" width="1" height="4" fill="#000"/>
<text x="452.5" y="811" font-size="9.8" fill="#000" textLength="46.5" lengthAdjust="spacingAndGlyphs"  stroke="#000" stroke-width="0.18">5 Apr 2019</text>
<rect x="517" y="799" width="1" height="4" fill="#000"/>
<text x="516" y="811" font-size="9.8" fill="#000" textLength="51.5" lengthAdjust="spacingAndGlyphs"  stroke="#000" stroke-width="0.18">15 Apr 2019</text>
<rect x="581" y="799" width="1" height="4" fill="#000"/>
<text x="580.5" y="811" font-size="9.8" fill="#000" textLength="51" lengthAdjust="spacingAndGlyphs"  stroke="#000" stroke-width="0.18">25 Apr 2019</text>
<rect x="645" y="799" width="1" height="4" fill="#000"/>
<text x="644.5" y="811" font-size="9.8" fill="#000" textLength="50.5" lengthAdjust="spacingAndGlyphs"  stroke="#000" stroke-width="0.18">5 May 2019</text>
<rect x="709" y="799" width="1" height="4" fill="#000"/>
<text x="708" y="811" font-size="9.8" fill="#000" textLength="56" lengthAdjust="spacingAndGlyphs"  stroke="#000" stroke-width="0.18">14 May 2019</text>
<rect x="773" y="799" width="1" height="4" fill="#000"/>
<text x="772.5" y="811" font-size="9.8" fill="#000" textLength="55.5" lengthAdjust="spacingAndGlyphs"  stroke="#000" stroke-width="0.18">23 May 2019</text>
<rect x="837" y="799" width="1" height="4" fill="#000"/>
<text x="836.5" y="811" font-size="9.8" fill="#000" textLength="45.5" lengthAdjust="spacingAndGlyphs"  stroke="#000" stroke-width="0.18">2 Jun 2019</text>
<rect x="901" y="799" width="1" height="4" fill="#000"/>
<text x="900" y="811" font-size="9.8" fill="#000" textLength="49.5" lengthAdjust="spacingAndGlyphs"  stroke="#000" stroke-width="0.18">11 Jun 2019</text>
<rect x="965" y="799" width="1" height="4" fill="#000"/>
<text x="964.5" y="811" font-size="9.8" fill="#000" textLength="50" lengthAdjust="spacingAndGlyphs"  stroke="#000" stroke-width="0.18">20 Jun 2019</text>
<rect x="1029" y="799" width="1" height="4" fill="#000"/>
<text x="1028.5" y="811" font-size="9.8" fill="#000" textLength="50" lengthAdjust="spacingAndGlyphs"  stroke="#000" stroke-width="0.18">30 Jun 2019</text>
<rect x="1093" y="799" width="1" height="4" fill="#000"/>
<text x="1092.5" y="811" font-size="9.8" fill="#000" textLength="43" lengthAdjust="spacingAndGlyphs"  stroke="#000" stroke-width="0.18">9 Jul 2019</text>
<path d="M8 33 L15 33 L11.5 29 Z" fill="#000"/>
<text x="21" y="34" font-size="9.5" fill="#000" textLength="68" lengthAdjust="spacingAndGlyphs"  stroke="#000" stroke-width="0.18">AUDUSD-,Daily</text>
<text x="95" y="34" font-size="9.5" fill="#000" textLength="141" lengthAdjust="spacingAndGlyphs"  stroke="#000" stroke-width="0.18">0.69711 0.69870 0.69703 0.69849</text>
<text x="9.5" y="575" font-size="9.5" fill="#000" textLength="147" lengthAdjust="spacingAndGlyphs"  stroke="#000" stroke-width="0.18">MACD(12,26,9) 0.000649 0.001267</text>
<text x="9.5" y="680" font-size="9.5" fill="#000" textLength="67" lengthAdjust="spacingAndGlyphs"  stroke="#000" stroke-width="0.18">RSI(14) 53.2117</text>
<defs>
<linearGradient id="gbtn" x1="0" y1="0" x2="0" y2="1"><stop offset="0" stop-color="#5a5afa"/><stop offset="1" stop-color="#3434e2"/></linearGradient>
<linearGradient id="gprice" x1="0" y1="0" x2="0" y2="1"><stop offset="0" stop-color="#3030de"/><stop offset="1" stop-color="#0000a8"/></linearGradient>
<linearGradient id="ggray" x1="0" y1="0" x2="0" y2="1"><stop offset="0" stop-color="#f4f4f4"/><stop offset="0.45" stop-color="#e8e8e8"/><stop offset="0.5" stop-color="#d8d8d8"/><stop offset="1" stop-color="#cdcdcd"/></linearGradient>
</defs>
<rect x="6" y="40" width="223" height="68" fill="#ffffff"/>
<path d="M8 42 H60 V66 H117 V106 H8 Z" fill="#0a0ab4"/>
<path d="M175 42 H227 V106 H119 V66 H175 Z" fill="#0a0ab4"/>
<rect x="9" y="43" width="50" height="23" fill="url(#gbtn)"/>
<rect x="176" y="43" width="50" height="23" fill="url(#gbtn)"/>
<rect x="9" y="66" width="107" height="39" fill="url(#gprice)"/>
<rect x="120" y="66" width="106" height="39" fill="url(#gprice)"/>
<rect x="60" y="66" width="57" height="1" fill="#0a0ab4"/><rect x="119" y="66" width="56" height="1" fill="#0a0ab4"/>
<rect x="12" y="65" width="44" height="1" fill="#1c1cb0"/><rect x="12" y="66" width="44" height="1" fill="#7a7aff"/>
<rect x="179" y="65" width="44" height="1" fill="#1c1cb0"/><rect x="179" y="66" width="44" height="1" fill="#7a7aff"/>
<rect x="62.5" y="42.5" width="110" height="21" fill="#fff" stroke="#a8a8a8"/>
<rect x="63" y="43" width="20" height="20" fill="url(#ggray)"/>
<rect x="83" y="43" width="1" height="20" fill="#b4b4b4"/>
<rect x="152" y="43" width="20" height="20" fill="url(#ggray)"/>
<rect x="151" y="43" width="1" height="20" fill="#b4b4b4"/>
<path d="M70.5 51 L76.5 51 L73.5 54 Z" fill="#6a7ec8"/>
<path d="M159 54.5 L165 54.5 L162 51.5 Z" fill="#6a7ec8"/>
<text x="148" y="57" font-size="12.5" fill="#000" text-anchor="end" >1.00</text>
<text x="33.5" y="58" font-size="12" fill="#eaeaff" textLength="25" lengthAdjust="spacingAndGlyphs" text-anchor="middle" >SELL</text>
<text x="200.5" y="58" font-size="12" fill="#eaeaff" textLength="23" lengthAdjust="spacingAndGlyphs" text-anchor="middle" >BUY</text>
<text x="28" y="97" font-size="11" fill="#fff" textLength="24" lengthAdjust="spacingAndGlyphs" font-weight="bold" >0.69</text>
<text x="55.5" y="97" font-size="33" fill="#fff" >84</text>
<text x="95" y="81" font-size="11" fill="#fff" font-weight="bold" >9</text>
<text x="138" y="97" font-size="11" fill="#fff" textLength="24" lengthAdjust="spacingAndGlyphs" font-weight="bold" >0.69</text>
<text x="166.5" y="97" font-size="33" fill="#fff" >86</text>
<text x="206" y="81" font-size="11" fill="#fff" font-weight="bold" >8</text>
<rect x="0" y="819" width="1464" height="27" fill="#f0f0f0"/>
<rect x="0" y="819" width="1464" height="1" fill="#dcdcdc"/>
<rect x="0" y="820" width="1464" height="1" fill="#ffffff"/>
<rect x="0" y="821" width="1464" height="1" fill="#000"/>
<rect x="0" y="822" width="2" height="17" fill="#808080"/>
<rect x="0" y="841" width="1464" height="3" fill="#fff"/>
<rect x="0" y="844" width="1464" height="2" fill="#a0a0a0"/>
<rect x="114" y="822" width="108" height="18" fill="#000"/><rect x="115" y="822" width="106" height="17" fill="#fff"/>
<text x="17.5" y="836" font-size="12.5" fill="#6d6d6d" textLength="84.5" lengthAdjust="spacingAndGlyphs" >EURUSD-,Daily</text>
<text x="124.2" y="836" font-size="12.5" fill="#000" textLength="86.6" lengthAdjust="spacingAndGlyphs" >AUDUSD-,Daily</text>
<text x="234" y="836" font-size="12.5" fill="#6d6d6d" textLength="84" lengthAdjust="spacingAndGlyphs" >USDCHF-,Daily</text>
<text x="341" y="836" font-size="12.5" fill="#6d6d6d" textLength="84" lengthAdjust="spacingAndGlyphs" >USDCAD-,Daily</text>
<text x="450" y="836" font-size="12.5" fill="#6d6d6d" textLength="85" lengthAdjust="spacingAndGlyphs" >USDCNH-,Daily</text>
<text x="561" y="836" font-size="12.5" fill="#6d6d6d" textLength="97" lengthAdjust="spacingAndGlyphs" >EURCHF-,Weekly</text>
<text x="680" y="836" font-size="12.5" fill="#6d6d6d" textLength="73" lengthAdjust="spacingAndGlyphs" >XAUUSD-,H1</text>
<text x="777" y="836" font-size="12.5" fill="#6d6d6d" textLength="73" lengthAdjust="spacingAndGlyphs" >GBPUSD-,H1</text>
<text x="873" y="836" font-size="12.5" fill="#6d6d6d" textLength="57" lengthAdjust="spacingAndGlyphs" >UKOil-,H1</text>
<rect x="330" y="825" width="1" height="12" fill="#6d6d6d"/>
<rect x="439" y="825" width="1" height="12" fill="#6d6d6d"/>
<rect x="551" y="825" width="1" height="12" fill="#6d6d6d"/>
<rect x="670" y="825" width="1" height="12" fill="#6d6d6d"/>
<rect x="766" y="825" width="1" height="12" fill="#6d6d6d"/>
<rect x="862" y="825" width="1" height="12" fill="#6d6d6d"/>
<rect x="943" y="825" width="1" height="12" fill="#6d6d6d"/>
<path d="M1435 830 L1439.5 826 L1439.5 834 Z" fill="#a0a0a0"/>
<path d="M1459 830 L1454.5 826 L1454.5 834 Z" fill="#a0a0a0"/>
</svg>
</body></html>
